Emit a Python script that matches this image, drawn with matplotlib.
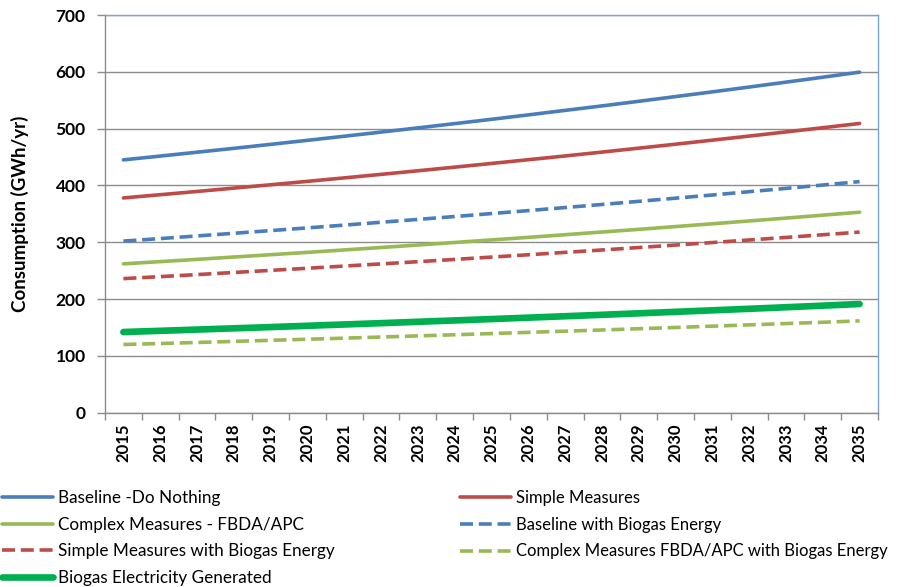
import matplotlib
matplotlib.use("Agg")
import matplotlib.pyplot as plt
from matplotlib.lines import Line2D

plt.rcParams['font.family'] = ['Lato', 'DejaVu Sans']

years = [str(y) for y in range(2015, 2036)]

baseline = [445, 451.7, 458.5, 465.3, 472.3, 479.4, 486.6, 493.9, 501.3, 508.8, 516.4,
            524.2, 532.1, 540.0, 548.1, 556.4, 564.7, 573.2, 581.8, 590.5, 599.4]
simple = [378, 383.7, 389.4, 395.3, 401.2, 407.2, 413.3, 419.5, 425.8, 432.2, 438.7,
          445.3, 451.9, 458.7, 465.6, 472.6, 479.7, 486.9, 494.2, 501.6, 509.1]
complex_fbda = [262, 265.9, 269.9, 274.0, 278.1, 282.2, 286.5, 290.8, 295.1, 299.6, 304.1,
                308.6, 313.3, 318.0, 322.7, 327.6, 332.5, 337.5, 342.5, 347.7, 352.9]
baseline_biogas = [302, 306.5, 311.1, 315.8, 320.5, 325.3, 330.2, 335.2, 340.2, 345.3, 350.5,
                   355.7, 361.1, 366.5, 372.0, 377.6, 383.2, 389.0, 394.8, 400.7, 406.8]
simple_biogas = [236, 239.5, 243.1, 246.8, 250.5, 254.2, 258.1, 261.9, 265.8, 269.8, 273.9,
                 278.0, 282.2, 286.4, 290.7, 295.1, 299.5, 304.0, 308.5, 313.2, 317.9]
complex_biogas = [120, 121.8, 123.6, 125.5, 127.4, 129.3, 131.2, 133.2, 135.2, 137.2, 139.3,
                  141.4, 143.5, 145.6, 147.8, 150.0, 152.3, 154.6, 156.9, 159.2, 161.6]
biogas_elec = [142, 144.1, 146.3, 148.5, 150.7, 153.0, 155.3, 157.6, 160.0, 162.4, 164.8,
               167.3, 169.8, 172.3, 174.9, 177.5, 180.2, 182.9, 185.6, 188.4, 191.3]

BLUE = "#4A7EBB"
RED = "#BE4B48"
GREEN = "#98B954"
BRIGHT = "#00B050"

W, H = 901, 587
fig = plt.figure(figsize=(W / 100, H / 100), dpi=100)
ax = fig.add_axes([105 / W, 1 - 412.7 / H, (878 - 105) / W, (412.7 - 15) / H])

x = list(range(len(years)))
LW = 2.6
dash = (3.6, 1.6)
series = [
    ("Baseline -Do Nothing", baseline, BLUE, "-", LW),
    ("Simple Measures", simple, RED, "-", LW),
    ("Complex Measures - FBDA/APC", complex_fbda, GREEN, "-", LW),
    ("Baseline with Biogas Energy", baseline_biogas, BLUE, "--", LW),
    ("Simple Measures with Biogas Energy", simple_biogas, RED, "--", LW),
    ("Complex Measures FBDA/APC with Biogas Energy", complex_biogas, GREEN, "--", LW),
    ("Biogas Electricity Generated", biogas_elec, BRIGHT, "-", 4.8),
]


def style(col, ls, lw):
    kw = dict(color=col, lw=lw, solid_capstyle="round")
    if ls == "--":
        kw.update(dashes=dash, dash_capstyle="butt")
    return kw


for label, vals, col, ls, lw in series:
    ax.plot(x, vals, label=label, zorder=3, **style(col, ls, lw))

ax.set_xlim(-0.5, len(years) - 0.5)
ax.set_ylim(0, 700)
ax.set_yticks(range(0, 701, 100))
ax.yaxis.grid(True, color="#8C8C8C", lw=1.0)
ax.set_axisbelow(True)

ax.set_xticks(x)
ax.set_xticklabels(years, rotation=90, fontsize=12, fontweight="bold")
ax.set_xticks([i - 0.5 for i in range(len(years) + 1)], minor=True)
ax.tick_params(axis="x", which="major", length=0, pad=8)
ax.tick_params(axis="x", which="minor", length=5, color="#8C8C8C", width=1)
ax.tick_params(axis="y", length=6, color="#8C8C8C", width=1, labelsize=12.5, pad=8)
for lbl in ax.get_yticklabels():
    lbl.set_fontweight("bold")

ax.spines["left"].set_color("#8C8C8C")
ax.spines["bottom"].set_color("#8C8C8C")
ax.spines["top"].set_color("#7FA3CF")
ax.spines["right"].set_color("#7FA3CF")
for s in ax.spines.values():
    s.set_linewidth(1.0)

ax.set_ylabel("Consumption (GWh/yr)", fontsize=13.5, fontweight="bold")
ax.yaxis.set_label_coords((29 - 105) / 773, 0.5)

# legend below the plot, two columns placed side by side
def legend_column(idx, x_px, fs):
    hs = [Line2D([], [], label=series[i][0], **style(*series[i][2:])) for i in idx]
    px = fs * 100 / 72
    leg = fig.legend(handles=hs, loc="upper left",
                     bbox_to_anchor=(x_px / W, 1 - 490 / H),
                     frameon=False, fontsize=fs, handlelength=51 / px,
                     handletextpad=5 / px, labelspacing=10.7 / px,
                     borderaxespad=0, borderpad=0)
    return leg

legend_column([0, 2, 4, 6], 2, 12.3)
legend_column([1, 3, 5], 460, 12.0)

fig.savefig("out.png", dpi=100, facecolor="white")
